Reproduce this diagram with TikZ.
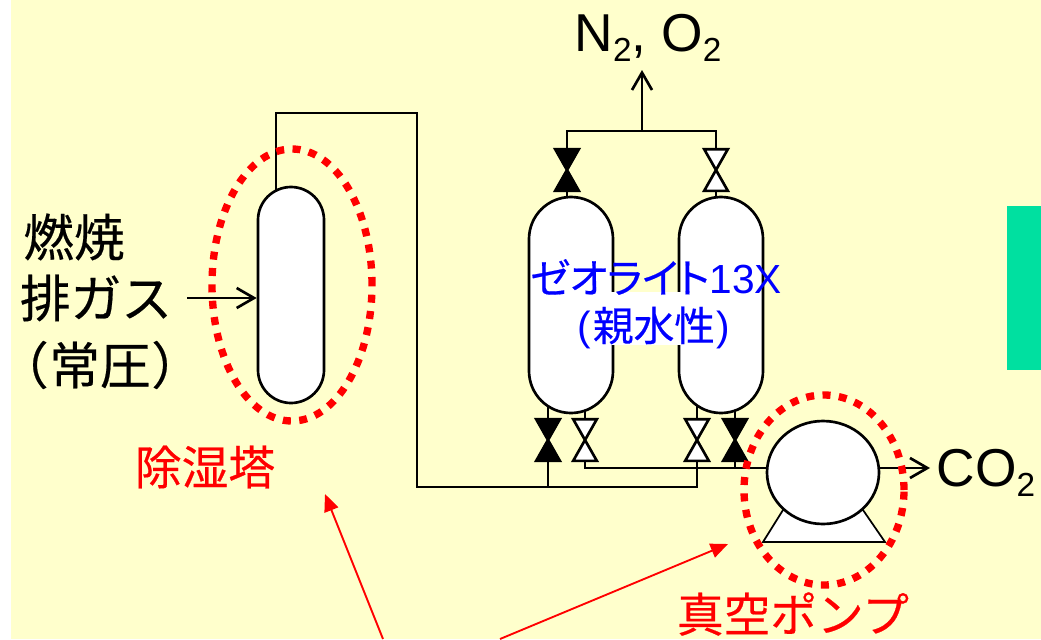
\documentclass[tikz,border=0pt]{standalone}
\usepackage{fontspec}
\setmainfont{Liberation Sans}
\newfontfamily\cjk[FakeBold=0.4]{Noto Sans CJK JP}
\newfontfamily\cjktight[RawFeature=+palt,FakeBold=0.4]{Noto Sans CJK JP}
\usetikzlibrary{shapes.geometric,arrows.meta,backgrounds}
\definecolor{paleyellow}{HTML}{FFFFCC}
\definecolor{tabgreen}{HTML}{00E0A0}
\def\u{0.75pt}
\newcommand\sizeset[1]{\fontsize{#1}{#1}\selectfont}
\newcommand\subtwo{\raisebox{-0.2em}{\sizeset{25}2}}
\newcommand\valve[3]{%
  \node (#1) at (#2)[valvebox] {};
  \draw[fill=#3] (#1.north west) -- (#1.north east) -- (#1.south west) -- (#1.south east) -- cycle;}

\begin{document}
\begin{tikzpicture}
[x=0.75pt,y=-0.75pt,line width=2pt,
vessel/.style={draw,fill=white,inner sep=0pt,minimum width=#1*\u,minimum height=216*\u,rounded corners=#1*\u/2},
valvebox/.style={inner sep=0pt,minimum width=21*\u,minimum height=39*\u},
ring/.style={draw=red,ellipse,inner sep=0pt,line width=5.5pt,dash pattern=on 6pt off 6.3pt},
flow/.style={-{Straight Barb[length=13pt,width=15pt]}},
pointer/.style={draw=red,line width=1.4pt,-{Triangle[length=13pt,width=11pt]}},
jp/.style={inner sep=0pt,font=\cjk\sizeset{38}},
redjp/.style={inner sep=0pt,text=red,font=\cjk\sizeset{35}},
bluejp/.style={inner sep=0pt,text=blue,font=\sizeset{30.5}},
gas/.style={inner sep=0pt,font=\sizeset{40}},]
\useasboundingbox (0,0) rectangle (1041,639);

%Towers
\node (tower) at (291,295)[vessel=66] {};
\node (vesselA) at (571,305)[vessel=84] {};
\node (vesselB) at (721,305)[vessel=84] {};

%Pump
\node (pump) at (823,472.5)[draw,fill=white,ellipse,inner sep=0pt,minimum width=112*\u,minimum height=103*\u] {};

%Valves
\valve{valveA}{567,170}{black}
\valve{valveB}{716,170}{white}
\valve{valveC}{548,440}{black}
\valve{valveD}{585,440}{white}
\valve{valveE}{697,440}{white}
\valve{valveF}{735,440}{black}

%Joints of the pipes
\coordinate (bendA) at (276,113);
\coordinate (bendB) at (417,113);
\coordinate (bendC) at (417,487);
\coordinate (bendD) at (585,468);
\coordinate (header) at (642,131);
\coordinate (outN) at (642,70);
\coordinate (outC) at (930,468);
\coordinate (inGas) at (187,298);

\begin{scope}[on background layer={line width=2pt}]
\fill[paleyellow] (11,0) rectangle (1041,639);
\fill[tabgreen] (1007,206) rectangle (1041,370);
%Pipes
\draw (bendA |- tower.center) -- (bendA) -- (bendB) -- (bendC) -- (valveE |- bendC) -- (valveE) -- (valveE |- vesselB.center);
\draw (valveC |- vesselA.center) -- (valveC) -- (valveC |- bendC);
\draw (valveD |- vesselA.center) -- (valveD) -- (bendD) -- (pump.center |- bendD);
\draw (valveF |- vesselB.center) -- (valveF) -- (valveF |- bendD);
\draw (valveA |- vesselA.center) -- (valveA) -- (valveA |- header) -- (valveB |- header) -- (valveB) -- (valveB |- vesselB.center);
\draw[flow] (header) -- (outN);
\draw[flow] (pump.center |- bendD) -- (outC);
\draw[flow] (inGas) -- (inGas -| tower.west);
%Pump base
\draw[fill=white,line width=1.3pt] (763,542) -- (783,510) -- (863,510) -- (885,542) -- cycle;
\end{scope}

%Dotted rings
\node (ringT) at (292,285)[ring,minimum width=160*\u,minimum height=272*\u] {};
\node (ringP) at (824,490)[ring,minimum width=160*\u,minimum height=190*\u] {};

%Pointers
\coordinate (footA) at (383,639);
\coordinate (footB) at (500,639);
\coordinate (tipA) at (325,494);
\coordinate (tipB) at (728,544);
\draw[pointer] (footA) -- (tipA);
\draw[pointer] (footB) -- (tipB);

%Labels
\node (fuelA) at (74,237)[jp] {燃焼};
\node (fuelB) at (96,298)[jp] {排ガス};
\node (fuelC) at (100,365)[jp] {{\cjktight（}\kern0.05em常圧\kern0.05em{\cjktight）}};
\node (dryLabel) at (205,467)[redjp] {除湿塔};
\node (pumpLabel) at (793,614)[redjp] {真空ポンプ};
\fill[white] (600,292) rectangle (700,345);
\node (zeoA) at (656,277)[bluejp] {{\cjktight ゼオライト}13X};
\node (zeoB) at (655,328)[bluejp] {\kern-0.05em(\kern0.04em{\cjk 親水性}\kern0.04em)};
\node (gasN) at (648,38)[gas] {N\subtwo, O\subtwo};
\node (gasC) at (986,473)[gas] {CO\subtwo};
\end{tikzpicture}
\end{document}
